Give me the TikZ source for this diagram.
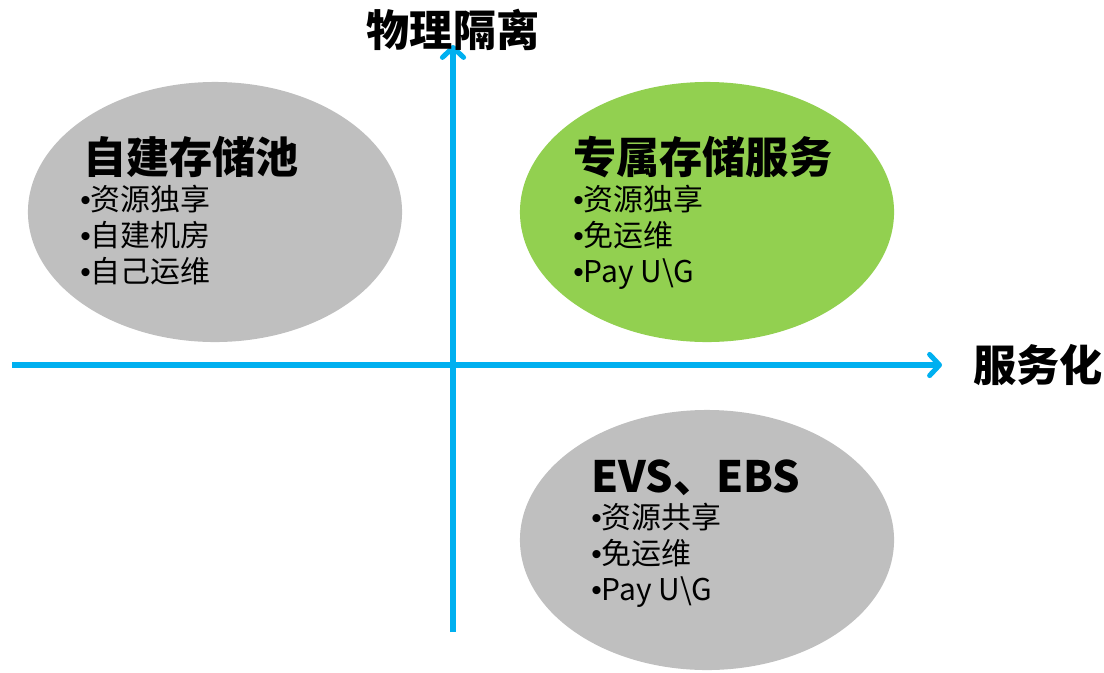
\documentclass[tikz,border=0pt]{standalone}
\usepackage{fontspec}
\setmainfont{Noto Sans CJK SC}
\newfontfamily\dotfont{Liberation Sans}
\usetikzlibrary{arrows.meta,shapes.geometric,positioning}
\definecolor{axisblue}{HTML}{00B0F0}
\definecolor{poolgray}{HTML}{BFBFBF}
\definecolor{svcgreen}{HTML}{92D050}
\newcommand{\pt}{{\dotfont •}}
\begin{document}
\begin{tikzpicture}[x=0.025cm,y=-0.025cm]
		\tikzset{blob/.style = {shape=ellipse,minimum width=9.35cm,minimum height=6.5cm,inner sep=0pt}}
		\tikzset{axis/.style = {line width=3.6pt,draw=axisblue,-{Straight Barb[round,length=7pt,width=15pt,line width=3.6pt]}}}
		\tikzset{title/.style = {anchor=west,inner sep=0pt,font=\fontsize{30.7}{36}\selectfont\bfseries}}
		\tikzset{items/.style = {anchor=north west,inner sep=0pt,align=left,font=\fontsize{21.3}{25.5}\selectfont}}
		\useasboundingbox (0,0) rectangle (1104,672);
		% quadrants
		\node[blob,fill=poolgray] (pool) at (215,212) {};
		\node[blob,fill=svcgreen] (dedicated) at (707,212) {};
		\node[blob,fill=poolgray] (shared) at (707,540) {};
		% axes
		\coordinate (xstart) at (12,365);
		\coordinate (xend) at (942,365);
		\coordinate (ystart) at (453,632);
		\coordinate (yend) at (453,45);
		\draw[axis] (xstart) -- (xend);
		\draw[axis] (ystart) -- (yend);
		\node[title] (xlabel) at (973,365) {服务化};
		\node[title,anchor=center] (ylabel) at (453,30) {物理隔离};
		% texts
		\node[title] (pooltitle) at (83,157) {自建存储池};
		\node[items,below=5pt of pooltitle.south west,anchor=north west,xshift=-2pt] (poolitems) {\pt 资源独享\\\pt 自建机房\\\pt 自己运维};
		\node[title] (dedtitle) at (573,157) {专属存储服务};
		\node[items,below=5pt of dedtitle.south west,anchor=north west,xshift=0pt] (deditems) {\pt 资源独享\\\pt 免运维\\\pt Pay U\textbackslash G};
		\node[title] (sharedtitle) at (591,478) {EVS、EBS};
		\node[items,below=5pt of sharedtitle.south west,anchor=north west,xshift=0pt] (shareditems) {\pt 资源共享\\\pt 免运维\\\pt Pay U\textbackslash G};
	\end{tikzpicture}
\end{document}
